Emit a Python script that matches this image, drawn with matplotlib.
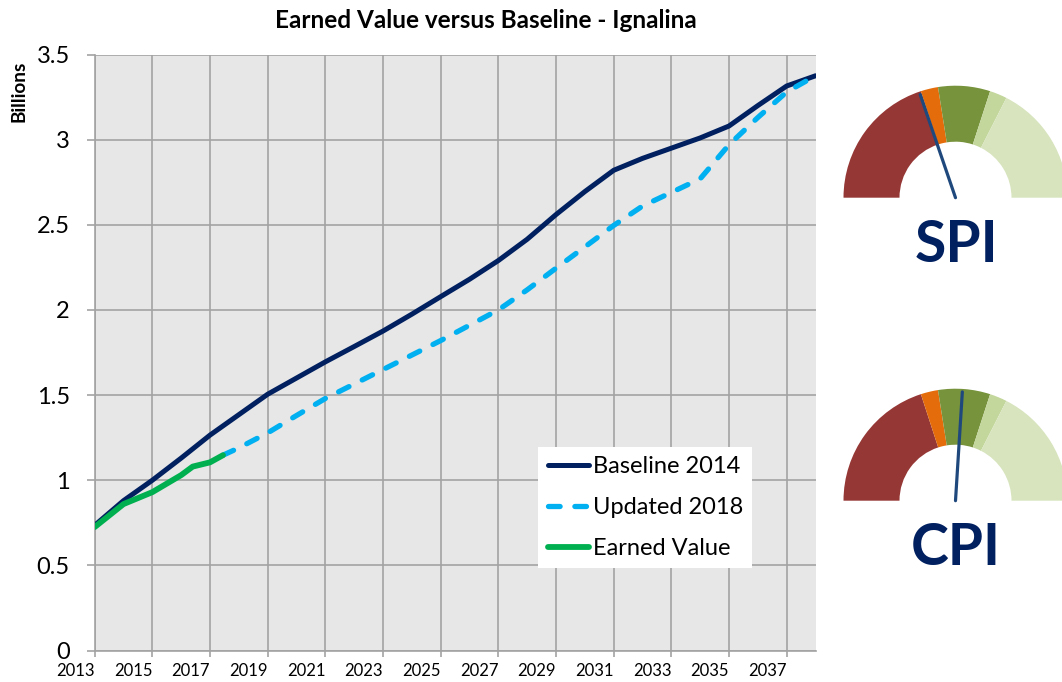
import matplotlib
matplotlib.use("Agg")
import matplotlib.pyplot as plt
from matplotlib.patches import Wedge
import numpy as np

plt.rcParams['font.family'] = ['Lato', 'DejaVu Sans']

# ---------------- data ----------------
years = list(range(2013, 2039))
baseline_2014 = [0.735, 0.88, 1.0, 1.13, 1.265, 1.385, 1.505, 1.60, 1.695, 1.785,
                 1.876, 1.975, 2.078, 2.18, 2.29, 2.415, 2.56, 2.695, 2.82, 2.89,
                 2.95, 3.01, 3.08, 3.20, 3.315, 3.375]

updated_years = [2017.45, 2018, 2019, 2020, 2021, 2022, 2023, 2024, 2025, 2026,
                 2027, 2028, 2029, 2030, 2031, 2032, 2033, 2034, 2035, 2036,
                 2037, 2038]
updated_2018 = [1.147, 1.19, 1.278, 1.38, 1.48, 1.565, 1.65, 1.735, 1.82, 1.91,
                2.0, 2.118, 2.245, 2.37, 2.496, 2.61, 2.69, 2.77, 2.97, 3.13,
                3.28, 3.375]

earned_years = [2013, 2014, 2015, 2016, 2016.4, 2017, 2017.45]
earned_value = [0.725, 0.86, 0.93, 1.03, 1.08, 1.105, 1.147]

x_ticks = list(range(2013, 2038, 2))
y_ticks = [0, 0.5, 1, 1.5, 2, 2.5, 3, 3.5]
y_tick_labels = ['0', '0.5', '1', '1.5', '2', '2.5', '3', '3.5']

series_labels = ['Baseline 2014', 'Updated 2018', 'Earned Value']

# gauge data (index scale 0..2 over a half circle)
gauge_bounds = [0, 0.8, 0.9, 1.2, 1.3, 2.0]
gauge_colors = ['#953735', '#e46c0a', '#77933c', '#c3d69b', '#d7e4bd']
spi_value = 0.79
cpi_value = 1.04

# ---------------- figure ----------------
W, H = 1062, 682
fig = plt.figure(figsize=(W / 100, H / 100), dpi=100)
renderer = fig.canvas.get_renderer()

def fx(px):
    return px / W

def fy(py):
    return 1 - py / H

def fit_width(txt, target_px):
    w = txt.get_window_extent(renderer).width
    txt.set_fontsize(txt.get_fontsize() * target_px / w)

L, R, T, B = 94.7, 815.5, 54.5, 650.5
ax = fig.add_axes([fx(L), fy(B), (R - L) / W, (B - T) / H])
bg = '#e7e7e7'
gridc = '#a3a3a3'
ax.set_facecolor(bg)

ax.plot(years, baseline_2014, color='#002060', lw=3.6, solid_capstyle='round',
        label=series_labels[0], zorder=3)
ax.plot(updated_years, updated_2018, color='#00b0f0', lw=3.8,
        dashes=(2.2, 2.8), dash_capstyle='round', label=series_labels[1], zorder=4)
ax.plot(earned_years, earned_value, color='#00b050', lw=4.2, solid_capstyle='round',
        label=series_labels[2], zorder=5)

ax.set_xlim(2013, 2038)
ax.set_ylim(0, 3.5)
ax.set_xticks(x_ticks)
ax.set_xticklabels([str(y) for y in x_ticks], fontsize=12)
for lab in ax.get_xticklabels():
    lab.set_ha('right')
ax.set_yticks(y_ticks)
ax.set_yticklabels(y_tick_labels, fontsize=17)
ax.grid(True, color=gridc, lw=1.2)
ax.set_axisbelow(True)
ax.tick_params(axis='x', length=4, width=1.2, color=gridc, pad=5)
ax.tick_params(axis='y', length=6, width=1.2, color=gridc, pad=12)
for s in ['top', 'right']:
    ax.spines[s].set_visible(False)
for s in ['left', 'bottom']:
    ax.spines[s].set_color(gridc)
    ax.spines[s].set_linewidth(1.2)

title = fig.text(fx(485.5), fy(20), 'Earned Value versus Baseline - Ignalina',
                 ha='center', va='center', fontsize=14, fontweight='bold')
fit_width(title, 425)
ylab = fig.text(fx(19.5), fy(91), 'Billions', rotation=90, ha='center', va='center',
                fontsize=10, fontweight='bold')
h = ylab.get_window_extent(renderer).height
ylab.set_fontsize(10 * 62 / h)

# legend font fitted so that the widest label is ~151 px
probe = fig.text(0, 0, series_labels[1], fontsize=15)
pw = probe.get_window_extent(renderer).width
probe.remove()
leg_fs = 15 * 151 / pw
fs_px = leg_fs * 100 / 72

def make_legend(ls, bp):
    return ax.legend(loc='upper left', bbox_to_anchor=(fx(538.3), fy(446.7)),
                     bbox_transform=fig.transFigure, fontsize=leg_fs, frameon=True,
                     fancybox=False, edgecolor='none', facecolor='white',
                     framealpha=1, handlelength=41 / fs_px,
                     handletextpad=4 / fs_px, labelspacing=ls, borderpad=bp,
                     borderaxespad=0)

ls, bp = 0.8, 0.4
leg = make_legend(ls, bp)
fig.canvas.draw()
t = leg.get_texts()
c0 = t[0].get_window_extent(renderer)
c1 = t[1].get_window_extent(renderer)
d = (c0.y0 + c0.y1) / 2 - (c1.y0 + c1.y1) / 2
ls = ls + (41 - d) / fs_px
leg = make_legend(ls, bp)
fig.canvas.draw()
hb = leg.get_window_extent(renderer).height
bp = bp + (121.6 - hb) / (2 * fs_px)
leg = make_legend(ls, bp)

# ---------------- gauges ----------------
def gauge(cx, cy, value, title, R_out=112, R_in=56, needle_len=109):
    x0, x1 = 830, 1062
    y0, y1 = cy - 130, cy + 95
    gax = fig.add_axes([fx(x0), fy(y1), (x1 - x0) / W, (y1 - y0) / H])
    gax.set_xlim(x0 - cx, x1 - cx)
    gax.set_ylim(cy - y1, cy - y0)
    gax.axis('off')
    vmax = gauge_bounds[-1]
    for a, b, c in zip(gauge_bounds[:-1], gauge_bounds[1:], gauge_colors):
        t1 = 180 - b / vmax * 180
        t2 = 180 - a / vmax * 180
        gax.add_patch(Wedge((0, 0), R_out, t1, t2, width=R_out - R_in,
                            facecolor=c, edgecolor='none'))
    th = np.deg2rad(180 - value / vmax * 180)
    gax.plot([0, needle_len * np.cos(th)], [0, needle_len * np.sin(th)],
             color='#1f497d', lw=2.3, solid_capstyle='round')
    gax.text(0.5, -64, title, ha='center', va='baseline', fontsize=41,
             fontweight='bold', color='#002060')

gauge(955.5, 197.7, spi_value, 'SPI')
gauge(955.5, 500.7, cpi_value, 'CPI')

fig.savefig('out.png', dpi=100)
